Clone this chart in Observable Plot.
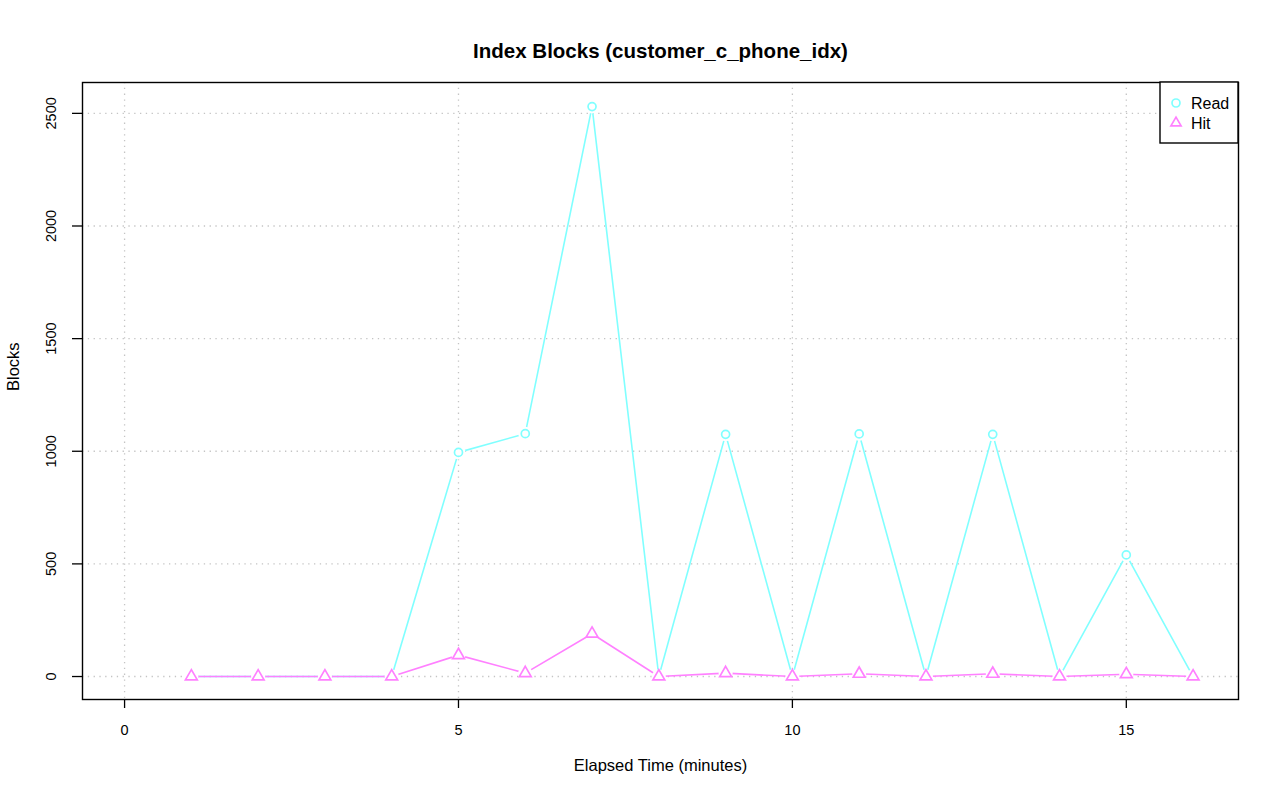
<!DOCTYPE html>
<html>
<head>
<meta charset="utf-8">
<script src="https://cdn.jsdelivr.net/npm/d3@7"></script>
<script src="https://cdn.jsdelivr.net/npm/@observablehq/plot@0.6"></script>
<style>
  html, body { margin: 0; padding: 0; background: #fff; }
  svg { font-family: "Liberation Sans", Arial, Helvetica, sans-serif; }
</style>
</head>
<body>
<div id="chart"></div>
<script>
const minutes = [1, 2, 3, 4, 5, 6, 7, 8, 9, 10, 11, 12, 13, 14, 15, 16];
const readBlocks = [0, 0, 0, 0, 995, 1078, 2530, 0, 1075, 0, 1077, 0, 1075, 0, 540, 0];
const hitBlocks = [0, 0, 0, 0, 95, 15, 190, 0, 15, 0, 12, 0, 12, 0, 10, 0];
const xTicks = [0, 5, 10, 15];
const yTicks = [0, 500, 1000, 1500, 2000, 2500];
const seriesNames = ["Read", "Hit"];
const seriesColors = ["#80FFFF", "#FF80FF"];

const readData = minutes.map((m, i) => ({x: m, y: readBlocks[i]}));
const hitData = minutes.map((m, i) => ({x: m, y: hitBlocks[i]}));

const W = 1280, H = 801;
const font = '"Liberation Sans", Arial, Helvetica, sans-serif';

const plot = Plot.plot({
  width: W,
  height: H,
  marginLeft: 82,
  marginRight: 42,
  marginTop: 82,
  marginBottom: 102,
  style: {fontFamily: font, fontSize: "14.5px", background: "#fff", color: "#000"},
  x: {domain: [-0.63, 16.68], label: null},
  y: {domain: [-102, 2637], label: null},
  marks: [
    Plot.gridX(xTicks, {stroke: "#c4c4c4", strokeOpacity: 1, strokeDasharray: "1.3,4.5", strokeWidth: 1.3}),
    Plot.gridY(yTicks, {stroke: "#c4c4c4", strokeOpacity: 1, strokeDasharray: "1.3,4.5", strokeWidth: 1.3}),
    Plot.line(readData, {x: "x", y: "y", stroke: seriesColors[0], strokeWidth: 1.6}),
    Plot.dot(readData, {x: "x", y: "y", r: 7, fill: "#fff", stroke: null}),
    Plot.dot(readData, {x: "x", y: "y", r: 4, symbol: "circle", stroke: seriesColors[0], strokeWidth: 1.7, fill: "none"}),
    Plot.line(hitData, {x: "x", y: "y", stroke: seriesColors[1], strokeWidth: 1.6}),
    Plot.dot(hitData, {x: "x", y: "y", r: 7, fill: "#fff", stroke: null}),
    Plot.dot(hitData, {x: "x", y: "y", r: 4.4, symbol: "triangle", stroke: seriesColors[1], strokeWidth: 1.7, fill: "none"}),
    Plot.frame({stroke: "#000", strokeWidth: 1.4}),
    Plot.axisX(xTicks, {tickSize: 9, tickPadding: 16, tickFormat: d => String(d), fontSize: 14.5, label: null, strokeWidth: 1.3}),
    Plot.axisY(yTicks, {tickSize: 10, tickFormat: () => "", label: null, strokeWidth: 1.3}),
    Plot.text(yTicks, {y: d => d, text: d => String(d), frameAnchor: "left", dx: -31, rotate: -90, textAnchor: "middle", lineAnchor: "middle", fontSize: 14.5}),
    Plot.text(["Index Blocks (customer_c_phone_idx)"], {frameAnchor: "top", dy: -39, fontSize: 20.5, fontWeight: "bold", text: d => d}),
    Plot.text(["Elapsed Time (minutes)"], {frameAnchor: "bottom", dy: 71, fontSize: 16.5, text: d => d}),
    Plot.text(["Blocks"], {frameAnchor: "left", dx: -69, rotate: -90, fontSize: 16.5, text: d => d})
  ]
});

document.getElementById("chart").appendChild(plot);

// Legend box in the top-right corner of the plot area
const svg = d3.select(plot);
const lx = W - 42, ly = 82;
const g = svg.append("g").attr("font-family", font).attr("font-size", 16).attr("text-anchor", "start");
g.append("rect").attr("x", lx - 78).attr("y", ly).attr("width", 78).attr("height", 61)
  .attr("fill", "#fff").attr("stroke", "#000").attr("stroke-width", 1.4);
const symbols = [d3.symbolCircle, d3.symbolTriangle];
const sizes = [50, 45];
seriesNames.forEach((name, i) => {
  const cy = ly + 21 + i * 20;
  g.append("path").attr("d", d3.symbol(symbols[i], sizes[i])())
    .attr("transform", `translate(${lx - 62},${cy})`)
    .attr("fill", "none").attr("stroke", seriesColors[i]).attr("stroke-width", 1.7);
  g.append("text").attr("x", lx - 47).attr("y", cy).attr("dy", "0.35em").text(name);
});
</script>
</body>
</html>
